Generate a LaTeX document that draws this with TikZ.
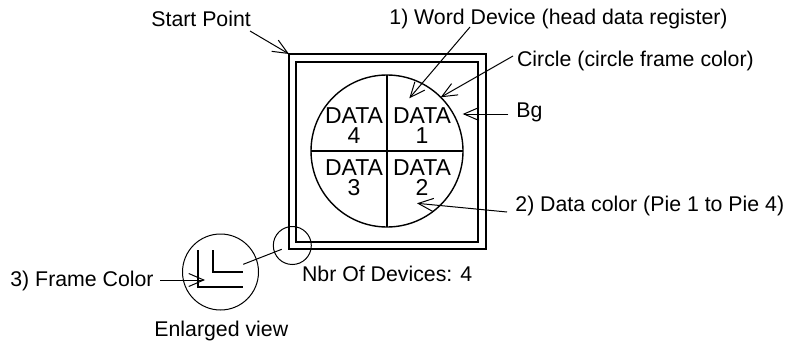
\documentclass[tikz,border=0pt]{standalone}
\usepackage{fontspec}
\setmainfont{Liberation Sans}
\usetikzlibrary{arrows.meta}

\begin{document}
\begin{tikzpicture}[x=0.5pt, y=-0.5pt,
  every node/.style={font=\fontsize{10.65}{10}\selectfont, inner sep=0pt},
  lbl/.style={anchor=base west},
  pietext/.style={anchor=north, align=center, font=\fontsize{11.5}{10}\selectfont},
  lead/.style={line width=0.5pt, -{Straight Barb[length=7.5pt, width=6.5pt]}}]
  \useasboundingbox (0,0) rectangle (790,342);

  % frame, inner frame and the pie
  \coordinate (corner) at (289,54);
  \coordinate (pc) at (387,151);
  \draw[line width=1.15pt] (corner) rectangle (486,249);
  \draw[line width=1.15pt] (296,62) rectangle (478,242);
  \draw[line width=0.7pt] (pc) circle[radius=76];
  \draw[line width=0.7pt] (387,75) -- (387,227);
  \draw[line width=0.7pt] (311,151) -- (463,151);
  \node[pietext] (d1) at (422,107) {DATA\\1};
  \node[pietext] (d2) at (422,159.7) {DATA\\2};
  \node[pietext] (d3) at (354,159.7) {DATA\\3};
  \node[pietext] (d4) at (354,107) {DATA\\4};

  % enlarged view of the corner
  \coordinate (zoomc) at (292.3,245.5);
  \coordinate (bigc) at (220.5,272);
  \draw[line width=0.5pt] (zoomc) circle[radius=19];
  \draw[line width=0.5pt] (bigc) circle[radius=38];
  \draw[line width=1.15pt] (198.3,250) -- (198.3,286.7) -- (242.7,286.7);
  \draw[line width=1.15pt] (212.7,250) -- (212.7,271.7) -- (243.3,271.7);
  \coordinate (zoom-a) at (243.3,264.3);
  \coordinate (zoom-b) at (281.7,249.3);
  \draw[line width=0.5pt] (zoom-a) -- (zoom-b);

  % labels
  \node[lbl] (start) at (151,26.5) {Start Point};
  \node[lbl] (word) at (389,25) {1) Word Device (head data register)};
  \node[lbl] (circ) at (516.7,66.5) {Circle (circle frame color)};
  \node[lbl] (bg) at (516,117.3) {Bg};
  \node[lbl] (datacol) at (515,211) {2) Data color (Pie 1 to Pie 4)};
  \node[lbl] (nbr) at (301.7,281.7) {Nbr Of Devices: 4};
  \node[lbl] (framecol) at (10,286) {3) Frame Color};
  \node[lbl] (enl) at (154,336) {Enlarged view};

  % leader arrows
  \coordinate (start-t) at (250,31);
  \coordinate (word-t) at (470,27);
  \coordinate (word-h) at (409.3,98.3);
  \coordinate (circ-t) at (513,56);
  \coordinate (circ-h) at (440.7,97.3);
  \coordinate (bg-t) at (508.3,114);
  \coordinate (bg-h) at (462.7,114);
  \coordinate (datacol-t) at (507,212);
  \coordinate (datacol-h) at (417,203.3);
  \coordinate (framecol-t) at (160,280);
  \coordinate (framecol-h) at (205,280);
  \draw[lead] (start-t) -- (corner);
  \draw[lead] (word-t) -- (word-h);
  \draw[lead] (circ-t) -- (circ-h);
  \draw[lead] (bg-t) -- (bg-h);
  \draw[lead] (datacol-t) -- (datacol-h);
  \draw[lead] (framecol-t) -- (framecol-h);
\end{tikzpicture}
\end{document}
